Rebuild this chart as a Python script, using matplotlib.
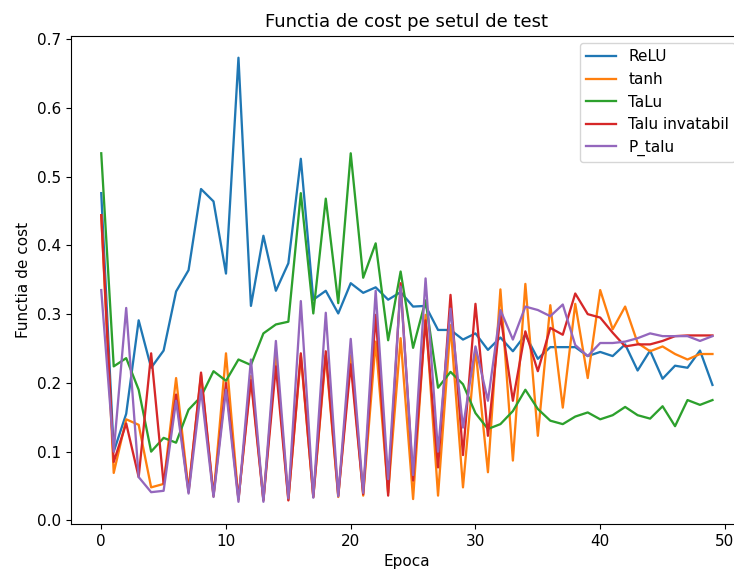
import matplotlib
matplotlib.use("Agg")
import matplotlib.pyplot as plt

epochs = list(range(50))

relu = [0.476, 0.100, 0.155, 0.291, 0.222, 0.247, 0.333, 0.364, 0.482, 0.464,
        0.359, 0.673, 0.312, 0.414, 0.334, 0.374, 0.526, 0.321, 0.334, 0.301,
        0.345, 0.331, 0.339, 0.321, 0.332, 0.311, 0.312, 0.277, 0.277, 0.263,
        0.272, 0.248, 0.266, 0.246, 0.270, 0.235, 0.252, 0.252, 0.252, 0.239,
        0.245, 0.239, 0.256, 0.218, 0.247, 0.206, 0.225, 0.222, 0.247, 0.197]

tanh = [0.444, 0.069, 0.147, 0.139, 0.048, 0.053, 0.207, 0.044, 0.212, 0.035,
        0.243, 0.030, 0.210, 0.030, 0.240, 0.030, 0.240, 0.034, 0.240, 0.034,
        0.240, 0.036, 0.260, 0.040, 0.265, 0.031, 0.299, 0.036, 0.284, 0.048,
        0.250, 0.070, 0.336, 0.087, 0.344, 0.123, 0.313, 0.164, 0.315, 0.207,
        0.335, 0.278, 0.311, 0.258, 0.246, 0.253, 0.242, 0.234, 0.242, 0.242]

talu = [0.534, 0.224, 0.236, 0.190, 0.100, 0.120, 0.113, 0.161, 0.180, 0.217,
        0.203, 0.234, 0.226, 0.272, 0.285, 0.289, 0.476, 0.301, 0.468, 0.316,
        0.534, 0.353, 0.403, 0.262, 0.362, 0.251, 0.320, 0.193, 0.216, 0.198,
        0.156, 0.133, 0.140, 0.159, 0.190, 0.162, 0.145, 0.140, 0.151, 0.157,
        0.147, 0.153, 0.165, 0.153, 0.148, 0.166, 0.137, 0.175, 0.168, 0.175]

talu_invatabil = [0.444, 0.085, 0.141, 0.063, 0.243, 0.053, 0.183, 0.041, 0.215, 0.036,
                  0.200, 0.031, 0.204, 0.029, 0.224, 0.029, 0.243, 0.034, 0.246, 0.036,
                  0.227, 0.038, 0.299, 0.036, 0.345, 0.058, 0.291, 0.077, 0.328, 0.095,
                  0.315, 0.123, 0.299, 0.174, 0.275, 0.217, 0.280, 0.270, 0.330, 0.300,
                  0.295, 0.273, 0.253, 0.256, 0.256, 0.261, 0.268, 0.269, 0.269, 0.269]

p_talu = [0.335, 0.100, 0.309, 0.063, 0.041, 0.043, 0.174, 0.039, 0.190, 0.034,
          0.190, 0.027, 0.234, 0.027, 0.261, 0.032, 0.319, 0.033, 0.302, 0.035,
          0.264, 0.040, 0.334, 0.060, 0.340, 0.066, 0.352, 0.100, 0.308, 0.135,
          0.253, 0.174, 0.306, 0.263, 0.311, 0.306, 0.297, 0.314, 0.255, 0.239,
          0.258, 0.258, 0.260, 0.265, 0.272, 0.268, 0.268, 0.268, 0.261, 0.268]

series = [
    ("ReLU", relu),
    ("tanh", tanh),
    ("TaLu", talu),
    ("Talu invatabil", talu_invatabil),
    ("P_talu", p_talu),
]

plt.rcParams["font.size"] = 11

fig = plt.figure(figsize=(7.34, 5.73), dpi=100)
# the axes run slightly past the right edge of the canvas
ax = fig.add_axes([0.0963, 0.0855, 0.916, 0.8525])

for name, values in series:
    ax.plot(epochs, values, label=name, linewidth=1.65)

ax.set_title("Functia de cost pe setul de test", fontsize=13)
ax.set_xlabel("Epoca")
ax.set_ylabel("Functia de cost")
ax.legend(loc="upper right")

fig.savefig("out.png", dpi=100)
